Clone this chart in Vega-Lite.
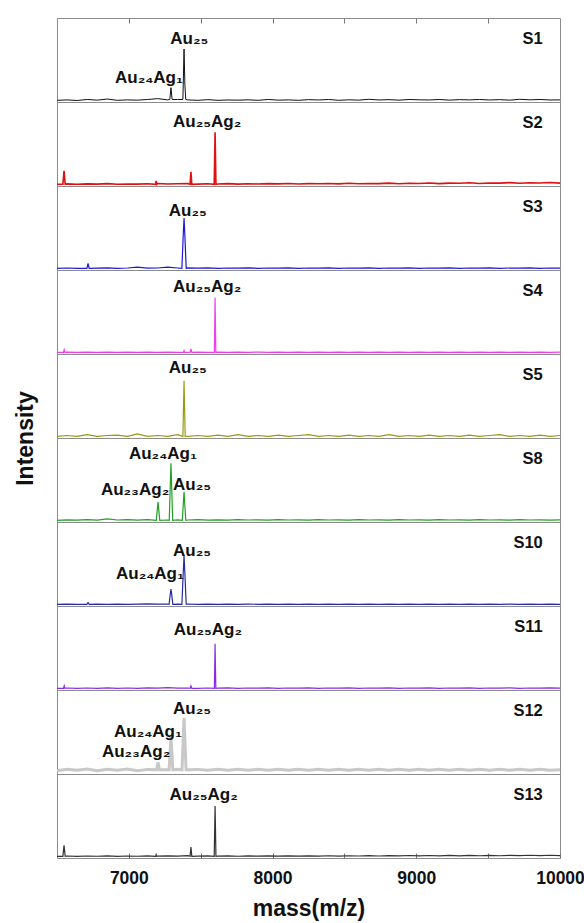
{
"$schema":"https://vega.github.io/schema/vega-lite/v6.json",
"padding":{"left":13,"top":17,"right":25,"bottom":5},
"background":"white",
"spacing":0,
"bounds":"flush",
"config":{"font":"Liberation Sans","view":{"stroke":"#8c8c8c","strokeWidth":1},"concat":{"spacing":0},"axis":{"grid":false}},
"datasets":{
"S1":[{"m":6500,"i":2},{"m":6570,"i":2.5},{"m":6640,"i":1.8},{"m":6710,"i":3},{"m":6780,"i":2.2},{"m":6850,"i":3.5},{"m":6920,"i":2},{"m":6990,"i":2.5},{"m":7060,"i":2.2},{"m":7130,"i":3},{"m":7200,"i":4},{"m":7270,"i":2.5},{"m":7340,"i":3},{"m":7410,"i":2.5},{"m":7480,"i":2},{"m":7550,"i":2.8},{"m":7620,"i":2},{"m":7690,"i":2.4},{"m":7760,"i":2.2},{"m":7830,"i":2.6},{"m":7900,"i":2},{"m":7970,"i":3},{"m":8040,"i":2.2},{"m":8110,"i":2.5},{"m":8180,"i":2},{"m":8250,"i":2.8},{"m":8320,"i":2.4},{"m":8390,"i":3},{"m":8460,"i":2},{"m":8530,"i":2.6},{"m":8600,"i":2.2},{"m":8670,"i":3.2},{"m":8740,"i":2.4},{"m":8810,"i":2.8},{"m":8880,"i":2.2},{"m":8950,"i":3},{"m":9020,"i":2.6},{"m":9090,"i":2.4},{"m":9160,"i":3},{"m":9230,"i":2.2},{"m":9300,"i":2.8},{"m":9370,"i":2.5},{"m":9440,"i":3},{"m":9510,"i":2.4},{"m":9580,"i":2.8},{"m":9650,"i":2.2},{"m":9720,"i":3.2},{"m":9790,"i":2.6},{"m":9860,"i":3},{"m":9930,"i":2.4},{"m":10000,"i":2.5},{"m":7285,"i":3},{"m":7293,"i":17},{"m":7301,"i":3},{"m":7376,"i":3},{"m":7384,"i":63},{"m":7390,"i":20},{"m":7396,"i":3}],
"S2":[{"m":6500,"i":2},{"m":6570,"i":2.5},{"m":6640,"i":2},{"m":6710,"i":2.5},{"m":6780,"i":2.2},{"m":6850,"i":2.8},{"m":6920,"i":2},{"m":6990,"i":2.4},{"m":7060,"i":2.2},{"m":7130,"i":2.6},{"m":7200,"i":3},{"m":7270,"i":2.4},{"m":7340,"i":2.6},{"m":7410,"i":2.8},{"m":7480,"i":2.2},{"m":7550,"i":2.6},{"m":7620,"i":2.4},{"m":7690,"i":2.8},{"m":7760,"i":2.2},{"m":7830,"i":2.6},{"m":7900,"i":2.4},{"m":7970,"i":2.8},{"m":8040,"i":2.5},{"m":8110,"i":3},{"m":8180,"i":2.4},{"m":8250,"i":2.8},{"m":8320,"i":2.6},{"m":8390,"i":3},{"m":8460,"i":2.5},{"m":8530,"i":3.2},{"m":8600,"i":2.6},{"m":8670,"i":3},{"m":8740,"i":2.8},{"m":8810,"i":3.4},{"m":8880,"i":2.6},{"m":8950,"i":3.2},{"m":9020,"i":3},{"m":9090,"i":3.6},{"m":9160,"i":2.8},{"m":9230,"i":3.4},{"m":9300,"i":3.2},{"m":9370,"i":3.8},{"m":9440,"i":3},{"m":9510,"i":3.6},{"m":9580,"i":3.4},{"m":9650,"i":4},{"m":9720,"i":3.2},{"m":9790,"i":3.8},{"m":9860,"i":3.6},{"m":9930,"i":4.2},{"m":10000,"i":3.4},{"m":6541,"i":2},{"m":6549,"i":18},{"m":6557,"i":2},{"m":7186,"i":2},{"m":7190,"i":6},{"m":7194,"i":2},{"m":7426,"i":2},{"m":7432,"i":17},{"m":7438,"i":2},{"m":7594,"i":2},{"m":7600,"i":64},{"m":7606,"i":2}],
"S3":[{"m":6500,"i":2},{"m":6570,"i":2.4},{"m":6640,"i":2},{"m":6780,"i":2.2},{"m":6850,"i":2.6},{"m":6920,"i":2},{"m":6990,"i":2.4},{"m":7060,"i":3.5},{"m":7130,"i":2.2},{"m":7200,"i":2.4},{"m":7270,"i":3.5},{"m":7340,"i":2.4},{"m":7410,"i":2.6},{"m":7480,"i":2.2},{"m":7550,"i":2.6},{"m":7620,"i":2},{"m":7690,"i":2.4},{"m":7760,"i":2.2},{"m":7830,"i":2.6},{"m":7900,"i":2},{"m":7970,"i":2.4},{"m":8040,"i":2.2},{"m":8110,"i":2.6},{"m":8180,"i":2},{"m":8250,"i":2.4},{"m":8320,"i":2.2},{"m":8390,"i":2.6},{"m":8460,"i":2},{"m":8530,"i":2.4},{"m":8600,"i":2.2},{"m":8670,"i":2.6},{"m":8740,"i":2},{"m":8810,"i":2.4},{"m":8880,"i":2.2},{"m":8950,"i":2.6},{"m":9020,"i":2},{"m":9090,"i":2.4},{"m":9160,"i":2.2},{"m":9230,"i":2.6},{"m":9300,"i":2},{"m":9370,"i":2.4},{"m":9440,"i":2.2},{"m":9510,"i":2.6},{"m":9580,"i":2},{"m":9650,"i":2.4},{"m":9720,"i":2.2},{"m":9790,"i":2.6},{"m":9860,"i":2},{"m":9930,"i":2.4},{"m":10000,"i":2.2},{"m":6708,"i":2},{"m":6716,"i":8},{"m":6724,"i":2},{"m":7369,"i":2},{"m":7378,"i":40},{"m":7384,"i":62},{"m":7390,"i":40},{"m":7399,"i":2}],
"S4":[{"m":6500,"i":2},{"m":6570,"i":2.3},{"m":6640,"i":2},{"m":6710,"i":2.3},{"m":6780,"i":2},{"m":6850,"i":2.3},{"m":6920,"i":2},{"m":6990,"i":2.3},{"m":7060,"i":2},{"m":7130,"i":2.3},{"m":7200,"i":2},{"m":7270,"i":2.3},{"m":7340,"i":2},{"m":7480,"i":2.3},{"m":7550,"i":2},{"m":7620,"i":2.3},{"m":7690,"i":2},{"m":7760,"i":2.3},{"m":7830,"i":2},{"m":7900,"i":2.3},{"m":7970,"i":2},{"m":8040,"i":2.3},{"m":8110,"i":2},{"m":8180,"i":2.3},{"m":8250,"i":2},{"m":8320,"i":2.3},{"m":8390,"i":2},{"m":8460,"i":2.3},{"m":8530,"i":2},{"m":8600,"i":2.3},{"m":8670,"i":2},{"m":8740,"i":2.3},{"m":8810,"i":2},{"m":8880,"i":2.3},{"m":8950,"i":2},{"m":9020,"i":2.3},{"m":9090,"i":2},{"m":9160,"i":2.3},{"m":9230,"i":2},{"m":9300,"i":2.3},{"m":9370,"i":2},{"m":9440,"i":2.3},{"m":9510,"i":2},{"m":9580,"i":2.3},{"m":9650,"i":2},{"m":9720,"i":2.3},{"m":9790,"i":2},{"m":9860,"i":2.3},{"m":9930,"i":2},{"m":10000,"i":2.3},{"m":6545,"i":2},{"m":6550,"i":5},{"m":6555,"i":2},{"m":7380,"i":2},{"m":7384,"i":4},{"m":7388,"i":2},{"m":7426,"i":2},{"m":7432,"i":6},{"m":7438,"i":2},{"m":7595,"i":2},{"m":7600,"i":67},{"m":7605,"i":2}],
"S5":[{"m":6500,"i":2},{"m":6570,"i":3},{"m":6640,"i":2},{"m":6710,"i":4},{"m":6780,"i":2},{"m":6850,"i":3},{"m":6920,"i":3.5},{"m":6990,"i":2},{"m":7060,"i":5},{"m":7130,"i":2},{"m":7200,"i":3},{"m":7270,"i":2},{"m":7340,"i":4},{"m":7410,"i":2},{"m":7480,"i":3},{"m":7550,"i":2},{"m":7620,"i":3.5},{"m":7690,"i":2},{"m":7760,"i":4},{"m":7830,"i":2},{"m":7900,"i":3},{"m":7970,"i":2},{"m":8040,"i":3.5},{"m":8110,"i":2},{"m":8180,"i":3},{"m":8250,"i":4},{"m":8320,"i":2},{"m":8390,"i":3},{"m":8460,"i":2},{"m":8530,"i":3.5},{"m":8600,"i":2},{"m":8670,"i":3},{"m":8740,"i":2},{"m":8810,"i":4},{"m":8880,"i":2},{"m":8950,"i":3},{"m":9020,"i":2},{"m":9090,"i":3.5},{"m":9160,"i":2},{"m":9230,"i":3},{"m":9300,"i":2},{"m":9370,"i":3.5},{"m":9440,"i":2},{"m":9510,"i":3},{"m":9580,"i":4},{"m":9650,"i":2},{"m":9720,"i":3},{"m":9790,"i":2},{"m":9860,"i":3.5},{"m":9930,"i":2},{"m":10000,"i":3},{"m":7376,"i":2},{"m":7384,"i":68},{"m":7392,"i":2}],
"S8":[{"m":6500,"i":2},{"m":6570,"i":2.6},{"m":6640,"i":2.2},{"m":6710,"i":2.8},{"m":6780,"i":2.2},{"m":6850,"i":3.8},{"m":6920,"i":2.4},{"m":6990,"i":2.8},{"m":7060,"i":2.2},{"m":7130,"i":2.8},{"m":7270,"i":2.4},{"m":7340,"i":2.6},{"m":7410,"i":2.4},{"m":7480,"i":2.8},{"m":7550,"i":2.2},{"m":7620,"i":2.6},{"m":7690,"i":2.2},{"m":7760,"i":2.8},{"m":7830,"i":2.4},{"m":7900,"i":2.6},{"m":7970,"i":2.2},{"m":8040,"i":2.8},{"m":8110,"i":2.4},{"m":8180,"i":2.6},{"m":8250,"i":2.2},{"m":8320,"i":2.8},{"m":8390,"i":2.4},{"m":8460,"i":2.6},{"m":8530,"i":2.2},{"m":8600,"i":2.8},{"m":8670,"i":2.4},{"m":8740,"i":2.6},{"m":8810,"i":2.2},{"m":8880,"i":2.8},{"m":8950,"i":2.4},{"m":9020,"i":2.6},{"m":9090,"i":2.2},{"m":9160,"i":2.8},{"m":9230,"i":2.4},{"m":9300,"i":2.6},{"m":9370,"i":2.2},{"m":9440,"i":2.8},{"m":9510,"i":2.4},{"m":9580,"i":2.6},{"m":9650,"i":2.2},{"m":9720,"i":2.8},{"m":9790,"i":2.4},{"m":9860,"i":2.6},{"m":9930,"i":2.2},{"m":10000,"i":2.6},{"m":7191,"i":2},{"m":7203,"i":24},{"m":7215,"i":2},{"m":7281,"i":2},{"m":7293,"i":70},{"m":7305,"i":2},{"m":7372,"i":2},{"m":7384,"i":36},{"m":7396,"i":2}],
"S10":[{"m":6500,"i":2},{"m":6570,"i":2.3},{"m":6640,"i":2},{"m":6780,"i":2.3},{"m":6850,"i":2},{"m":6920,"i":2.3},{"m":6990,"i":2},{"m":7060,"i":2.3},{"m":7130,"i":2.6},{"m":7200,"i":2.3},{"m":7270,"i":2.4},{"m":7340,"i":2.2},{"m":7410,"i":2.4},{"m":7480,"i":2},{"m":7550,"i":2.3},{"m":7620,"i":2},{"m":7690,"i":2.3},{"m":7760,"i":2},{"m":7830,"i":2.3},{"m":7900,"i":2},{"m":7970,"i":2.3},{"m":8040,"i":2},{"m":8110,"i":2.3},{"m":8180,"i":2},{"m":8250,"i":2.3},{"m":8320,"i":2},{"m":8390,"i":2.3},{"m":8460,"i":2},{"m":8530,"i":2.3},{"m":8600,"i":2},{"m":8670,"i":2.3},{"m":8740,"i":2},{"m":8810,"i":2.3},{"m":8880,"i":2},{"m":8950,"i":2.3},{"m":9020,"i":2},{"m":9090,"i":2.3},{"m":9160,"i":2},{"m":9230,"i":2.3},{"m":9300,"i":2},{"m":9370,"i":2.3},{"m":9440,"i":2},{"m":9510,"i":2.3},{"m":9580,"i":2},{"m":9650,"i":2.3},{"m":9720,"i":2},{"m":9790,"i":2.3},{"m":9860,"i":2},{"m":9930,"i":2.3},{"m":10000,"i":2},{"m":6708,"i":2},{"m":6716,"i":4},{"m":6724,"i":2},{"m":7280,"i":2},{"m":7288,"i":14},{"m":7293,"i":20},{"m":7298,"i":14},{"m":7306,"i":2},{"m":7369,"i":2},{"m":7378,"i":38},{"m":7384,"i":60},{"m":7390,"i":38},{"m":7399,"i":2}],
"S11":[{"m":6500,"i":2},{"m":6570,"i":2.4},{"m":6640,"i":2},{"m":6710,"i":2.4},{"m":6780,"i":2},{"m":6850,"i":2.6},{"m":6920,"i":2},{"m":6990,"i":2.4},{"m":7060,"i":2},{"m":7130,"i":2.6},{"m":7200,"i":2.2},{"m":7270,"i":2.8},{"m":7340,"i":2.2},{"m":7410,"i":2.4},{"m":7480,"i":2},{"m":7550,"i":2.4},{"m":7620,"i":2.2},{"m":7690,"i":2.6},{"m":7760,"i":2},{"m":7830,"i":2.4},{"m":7900,"i":2.2},{"m":7970,"i":2.6},{"m":8040,"i":2},{"m":8110,"i":2.4},{"m":8180,"i":2.2},{"m":8250,"i":2.6},{"m":8320,"i":2},{"m":8390,"i":2.4},{"m":8460,"i":2.2},{"m":8530,"i":2.6},{"m":8600,"i":2},{"m":8670,"i":2.4},{"m":8740,"i":2.2},{"m":8810,"i":2.6},{"m":8880,"i":2},{"m":8950,"i":2.4},{"m":9020,"i":2.2},{"m":9090,"i":2.6},{"m":9160,"i":2},{"m":9230,"i":2.4},{"m":9300,"i":2.2},{"m":9370,"i":2.6},{"m":9440,"i":2},{"m":9510,"i":2.4},{"m":9580,"i":2.2},{"m":9650,"i":2.6},{"m":9720,"i":2},{"m":9790,"i":2.4},{"m":9860,"i":2.2},{"m":9930,"i":2.6},{"m":10000,"i":2.2},{"m":6545,"i":2},{"m":6550,"i":5},{"m":6555,"i":2},{"m":7426,"i":2},{"m":7432,"i":5},{"m":7438,"i":2},{"m":7595,"i":2},{"m":7600,"i":55},{"m":7605,"i":2}],
"S12":[{"m":6500,"i":4},{"m":6570,"i":5.5},{"m":6640,"i":4.5},{"m":6710,"i":6},{"m":6780,"i":4},{"m":6850,"i":5.5},{"m":6920,"i":4.5},{"m":6990,"i":6},{"m":7060,"i":4},{"m":7130,"i":5.5},{"m":7270,"i":5},{"m":7340,"i":5.5},{"m":7410,"i":5},{"m":7480,"i":5.5},{"m":7550,"i":4.5},{"m":7620,"i":5.5},{"m":7690,"i":4.5},{"m":7760,"i":5.5},{"m":7830,"i":4.5},{"m":7900,"i":5.5},{"m":7970,"i":4.5},{"m":8040,"i":5.5},{"m":8110,"i":4.5},{"m":8180,"i":5.5},{"m":8250,"i":4.5},{"m":8320,"i":5.5},{"m":8390,"i":4.5},{"m":8460,"i":5.5},{"m":8530,"i":4.5},{"m":8600,"i":5.5},{"m":8670,"i":4.5},{"m":8740,"i":5.5},{"m":8810,"i":4.5},{"m":8880,"i":5.5},{"m":8950,"i":4.5},{"m":9020,"i":5.5},{"m":9090,"i":4.5},{"m":9160,"i":5.5},{"m":9230,"i":4.5},{"m":9300,"i":5.5},{"m":9370,"i":4.5},{"m":9440,"i":5.5},{"m":9510,"i":4.5},{"m":9580,"i":5.5},{"m":9650,"i":4.5},{"m":9720,"i":5.5},{"m":9790,"i":4.5},{"m":9860,"i":5.5},{"m":9930,"i":4.5},{"m":10000,"i":5},{"m":7193,"i":5},{"m":7203,"i":14},{"m":7213,"i":5},{"m":7280,"i":5},{"m":7293,"i":45},{"m":7306,"i":5},{"m":7370,"i":5},{"m":7384,"i":67},{"m":7398,"i":5}],
"S13":[{"m":6500,"i":2},{"m":6570,"i":2.4},{"m":6640,"i":2},{"m":6710,"i":2.4},{"m":6780,"i":2.1},{"m":6850,"i":2.5},{"m":6920,"i":2},{"m":6990,"i":2.4},{"m":7060,"i":2.1},{"m":7130,"i":2.5},{"m":7200,"i":2.2},{"m":7270,"i":2.6},{"m":7340,"i":2.2},{"m":7410,"i":2.8},{"m":7480,"i":2.2},{"m":7550,"i":2.5},{"m":7620,"i":2.2},{"m":7690,"i":2.5},{"m":7760,"i":2.1},{"m":7830,"i":2.5},{"m":7900,"i":2.2},{"m":7970,"i":2.6},{"m":8040,"i":2.2},{"m":8110,"i":2.5},{"m":8180,"i":2.2},{"m":8250,"i":2.6},{"m":8320,"i":2.3},{"m":8390,"i":2.7},{"m":8460,"i":2.3},{"m":8530,"i":2.7},{"m":8600,"i":2.4},{"m":8670,"i":2.8},{"m":8740,"i":2.4},{"m":8810,"i":2.8},{"m":8880,"i":2.5},{"m":8950,"i":3},{"m":9020,"i":2.5},{"m":9090,"i":3},{"m":9160,"i":2.6},{"m":9230,"i":3.1},{"m":9300,"i":2.6},{"m":9370,"i":3.1},{"m":9440,"i":2.7},{"m":9510,"i":3.2},{"m":9580,"i":2.7},{"m":9650,"i":3.2},{"m":9720,"i":2.8},{"m":9790,"i":3.3},{"m":9860,"i":2.8},{"m":9930,"i":3.3},{"m":10000,"i":2.8},{"m":6541,"i":2},{"m":6549,"i":15},{"m":6557,"i":2},{"m":7186,"i":2},{"m":7190,"i":4},{"m":7194,"i":2},{"m":7426,"i":2},{"m":7432,"i":13},{"m":7438,"i":2},{"m":7594,"i":2},{"m":7600,"i":62},{"m":7606,"i":2}],
"L":[{"s":"S1","m":7420,"i":75,"t":"Au₂₅"},{"s":"S1","m":7140,"i":29,"t":"Au₂₄Ag₁"},{"s":"S2","m":7545,"i":76,"t":"Au₂₅Ag₂"},{"s":"S3","m":7410,"i":70,"t":"Au₂₅"},{"s":"S4","m":7545,"i":80,"t":"Au₂₅Ag₂"},{"s":"S5","m":7410,"i":83,"t":"Au₂₅"},{"s":"S8","m":7237,"i":81,"t":"Au₂₄Ag₁"},{"s":"S8","m":7043,"i":38,"t":"Au₂₃Ag₂"},{"s":"S8","m":7440,"i":44,"t":"Au₂₅"},{"s":"S10","m":7440,"i":65,"t":"Au₂₅"},{"s":"S10","m":7147,"i":38,"t":"Au₂₄Ag₁"},{"s":"S11","m":7550,"i":71,"t":"Au₂₅Ag₂"},{"s":"S12","m":7440,"i":77,"t":"Au₂₅"},{"s":"S12","m":7133,"i":50,"t":"Au₂₄Ag₁"},{"s":"S12","m":7050,"i":26,"t":"Au₂₃Ag₂"},{"s":"S13","m":7520,"i":75,"t":"Au₂₅Ag₂"}],
"N":[{"s":"S1","m":9880,"i":75},{"s":"S2","m":9880,"i":75},{"s":"S3","m":9880,"i":75},{"s":"S4","m":9880,"i":75},{"s":"S5","m":9880,"i":75},{"s":"S8","m":9880,"i":75},{"s":"S10","m":9880,"i":75},{"s":"S11","m":9880,"i":75},{"s":"S12","m":9880,"i":75},{"s":"S13","m":9880,"i":75}]
},
"vconcat":[
{"width":503,"height":84,"encoding":{"x":{"field":"m","type":"quantitative","scale":{"domain":[6500,10000],"nice":false},"axis":{"orient":"top","values":[7000,7500,8000,8500,9000,9500],"labels":false,"domain":false,"tickSize":-5,"tickColor":"#777777","title":null}},"y":{"field":"i","type":"quantitative","scale":{"domain":[0,100]},"axis":null}},
 "layer":[{"data":{"name":"S1"},"mark":{"type":"line","color":"#111111","strokeWidth":1}},
 {"data":{"name":"L"},"transform":[{"filter":"datum.s==='S1'"}],"mark":{"type":"text","fontWeight":"bold","fontSize":17,"baseline":"middle","align":"center","color":"#111111"},"encoding":{"text":{"field":"t"}}},
 {"data":{"name":"N"},"transform":[{"filter":"datum.s==='S1'"}],"mark":{"type":"text","fontWeight":"bold","fontSize":16.5,"baseline":"middle","align":"right","color":"#111111"},"encoding":{"text":{"field":"s"}}}]},
{"width":503,"height":84,"encoding":{"x":{"field":"m","type":"quantitative","scale":{"domain":[6500,10000],"nice":false},"axis":null},"y":{"field":"i","type":"quantitative","scale":{"domain":[0,100]},"axis":null}},
 "layer":[{"data":{"name":"S2"},"mark":{"type":"line","color":"#e01010","strokeWidth":1.6}},
 {"data":{"name":"L"},"transform":[{"filter":"datum.s==='S2'"}],"mark":{"type":"text","fontWeight":"bold","fontSize":17,"baseline":"middle","align":"center","color":"#111111"},"encoding":{"text":{"field":"t"}}},
 {"data":{"name":"N"},"transform":[{"filter":"datum.s==='S2'"}],"mark":{"type":"text","fontWeight":"bold","fontSize":16.5,"baseline":"middle","align":"right","color":"#111111"},"encoding":{"text":{"field":"s"}}}]},
{"width":503,"height":84,"encoding":{"x":{"field":"m","type":"quantitative","scale":{"domain":[6500,10000],"nice":false},"axis":null},"y":{"field":"i","type":"quantitative","scale":{"domain":[0,100]},"axis":null}},
 "layer":[{"data":{"name":"S3"},"mark":{"type":"line","color":"#1a1ad6","strokeWidth":1.2}},
 {"data":{"name":"L"},"transform":[{"filter":"datum.s==='S3'"}],"mark":{"type":"text","fontWeight":"bold","fontSize":17,"baseline":"middle","align":"center","color":"#111111"},"encoding":{"text":{"field":"t"}}},
 {"data":{"name":"N"},"transform":[{"filter":"datum.s==='S3'"}],"mark":{"type":"text","fontWeight":"bold","fontSize":16.5,"baseline":"middle","align":"right","color":"#111111"},"encoding":{"text":{"field":"s"}}}]},
{"width":503,"height":84,"encoding":{"x":{"field":"m","type":"quantitative","scale":{"domain":[6500,10000],"nice":false},"axis":null},"y":{"field":"i","type":"quantitative","scale":{"domain":[0,100]},"axis":null}},
 "layer":[{"data":{"name":"S4"},"mark":{"type":"line","color":"#ee3dee","strokeWidth":1.2}},
 {"data":{"name":"L"},"transform":[{"filter":"datum.s==='S4'"}],"mark":{"type":"text","fontWeight":"bold","fontSize":17,"baseline":"middle","align":"center","color":"#111111"},"encoding":{"text":{"field":"t"}}},
 {"data":{"name":"N"},"transform":[{"filter":"datum.s==='S4'"}],"mark":{"type":"text","fontWeight":"bold","fontSize":16.5,"baseline":"middle","align":"right","color":"#111111"},"encoding":{"text":{"field":"s"}}}]},
{"width":503,"height":84,"encoding":{"x":{"field":"m","type":"quantitative","scale":{"domain":[6500,10000],"nice":false},"axis":null},"y":{"field":"i","type":"quantitative","scale":{"domain":[0,100]},"axis":{"title":"Intensity","titleAnchor":"start","titleAlign":"center","titleFontSize":23,"titleFontWeight":"bold","titleColor":"#111111","titlePadding":20,"domain":false,"ticks":false,"labels":false}}},
 "layer":[{"data":{"name":"S5"},"mark":{"type":"line","color":"#9a9a12","strokeWidth":1.2}},
 {"data":{"name":"L"},"transform":[{"filter":"datum.s==='S5'"}],"mark":{"type":"text","fontWeight":"bold","fontSize":17,"baseline":"middle","align":"center","color":"#111111"},"encoding":{"text":{"field":"t"}}},
 {"data":{"name":"N"},"transform":[{"filter":"datum.s==='S5'"}],"mark":{"type":"text","fontWeight":"bold","fontSize":16.5,"baseline":"middle","align":"right","color":"#111111"},"encoding":{"text":{"field":"s"}}}]},
{"width":503,"height":84,"encoding":{"x":{"field":"m","type":"quantitative","scale":{"domain":[6500,10000],"nice":false},"axis":null},"y":{"field":"i","type":"quantitative","scale":{"domain":[0,100]},"axis":null}},
 "layer":[{"data":{"name":"S8"},"mark":{"type":"line","color":"#23a023","strokeWidth":1.2}},
 {"data":{"name":"L"},"transform":[{"filter":"datum.s==='S8'"}],"mark":{"type":"text","fontWeight":"bold","fontSize":17,"baseline":"middle","align":"center","color":"#111111"},"encoding":{"text":{"field":"t"}}},
 {"data":{"name":"N"},"transform":[{"filter":"datum.s==='S8'"}],"mark":{"type":"text","fontWeight":"bold","fontSize":16.5,"baseline":"middle","align":"right","color":"#111111"},"encoding":{"text":{"field":"s"}}}]},
{"width":503,"height":84,"encoding":{"x":{"field":"m","type":"quantitative","scale":{"domain":[6500,10000],"nice":false},"axis":null},"y":{"field":"i","type":"quantitative","scale":{"domain":[0,100]},"axis":null}},
 "layer":[{"data":{"name":"S10"},"mark":{"type":"line","color":"#2a2aa8","strokeWidth":1.2}},
 {"data":{"name":"L"},"transform":[{"filter":"datum.s==='S10'"}],"mark":{"type":"text","fontWeight":"bold","fontSize":17,"baseline":"middle","align":"center","color":"#111111"},"encoding":{"text":{"field":"t"}}},
 {"data":{"name":"N"},"transform":[{"filter":"datum.s==='S10'"}],"mark":{"type":"text","fontWeight":"bold","fontSize":16.5,"baseline":"middle","align":"right","color":"#111111"},"encoding":{"text":{"field":"s"}}}]},
{"width":503,"height":84,"encoding":{"x":{"field":"m","type":"quantitative","scale":{"domain":[6500,10000],"nice":false},"axis":null},"y":{"field":"i","type":"quantitative","scale":{"domain":[0,100]},"axis":null}},
 "layer":[{"data":{"name":"S11"},"mark":{"type":"line","color":"#8a2be2","strokeWidth":1.2}},
 {"data":{"name":"L"},"transform":[{"filter":"datum.s==='S11'"}],"mark":{"type":"text","fontWeight":"bold","fontSize":17,"baseline":"middle","align":"center","color":"#111111"},"encoding":{"text":{"field":"t"}}},
 {"data":{"name":"N"},"transform":[{"filter":"datum.s==='S11'"}],"mark":{"type":"text","fontWeight":"bold","fontSize":16.5,"baseline":"middle","align":"right","color":"#111111"},"encoding":{"text":{"field":"s"}}}]},
{"width":503,"height":84,"encoding":{"x":{"field":"m","type":"quantitative","scale":{"domain":[6500,10000],"nice":false},"axis":null},"y":{"field":"i","type":"quantitative","scale":{"domain":[0,100]},"axis":null}},
 "layer":[{"data":{"name":"S12"},"mark":{"type":"line","color":"#c8c8c8","strokeWidth":3}},
 {"data":{"name":"L"},"transform":[{"filter":"datum.s==='S12'"}],"mark":{"type":"text","fontWeight":"bold","fontSize":17,"baseline":"middle","align":"center","color":"#111111"},"encoding":{"text":{"field":"t"}}},
 {"data":{"name":"N"},"transform":[{"filter":"datum.s==='S12'"}],"mark":{"type":"text","fontWeight":"bold","fontSize":16.5,"baseline":"middle","align":"right","color":"#111111"},"encoding":{"text":{"field":"s"}}}]},
{"width":503,"height":84,"encoding":{"x":{"field":"m","type":"quantitative","scale":{"domain":[6500,10000],"nice":false},"axis":{"orient":"bottom","values":[7000,7500,8000,8500,9000,9500,10000],"format":"d","labelExpr":"datum.value % 1000 === 0 ? datum.label : ''","labelFlush":false,"labelOverlap":false,"labelFontSize":17.5,"labelFontWeight":"bold","labelColor":"#111111","labelPadding":16,"domain":false,"tickSize":-5,"tickColor":"#777777","title":"mass(m/z)","titleFontSize":23,"titleFontWeight":"bold","titleColor":"#111111","titlePadding":11}},"y":{"field":"i","type":"quantitative","scale":{"domain":[0,100]},"axis":null}},
 "layer":[{"data":{"name":"S13"},"mark":{"type":"line","color":"#333333","strokeWidth":1.2}},
 {"data":{"name":"L"},"transform":[{"filter":"datum.s==='S13'"}],"mark":{"type":"text","fontWeight":"bold","fontSize":17,"baseline":"middle","align":"center","color":"#111111"},"encoding":{"text":{"field":"t"}}},
 {"data":{"name":"N"},"transform":[{"filter":"datum.s==='S13'"}],"mark":{"type":"text","fontWeight":"bold","fontSize":16.5,"baseline":"middle","align":"right","color":"#111111"},"encoding":{"text":{"field":"s"}}}]}
]
}
